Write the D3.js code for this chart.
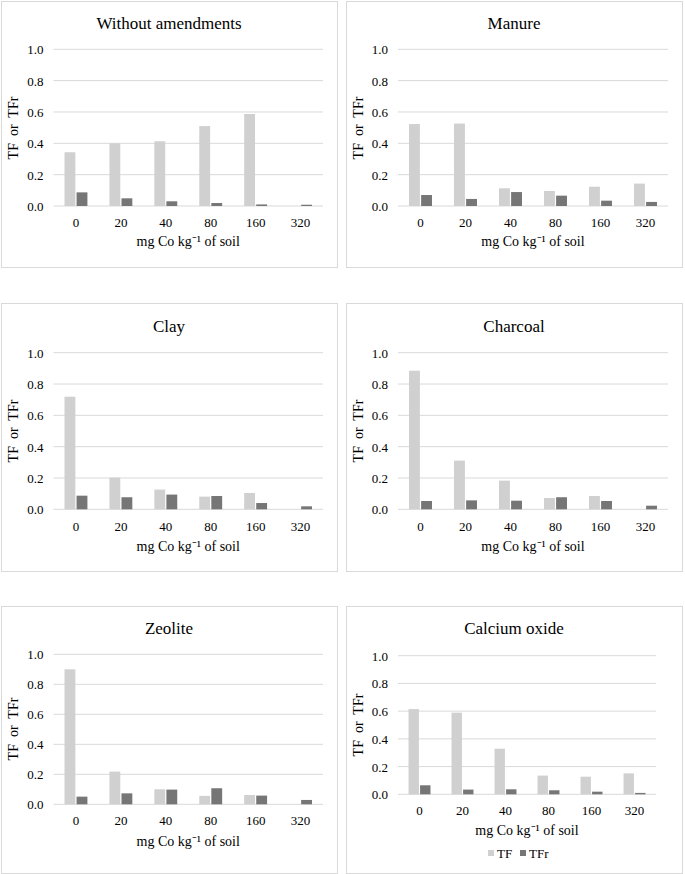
<!DOCTYPE html>
<html>
<head>
<meta charset="utf-8">
<script src="https://cdn.jsdelivr.net/npm/d3@7/dist/d3.min.js"></script>
<style>
  html, body { margin: 0; padding: 0; background: #fff; }
  #wrap { position: relative; width: 685px; height: 874px; }
  #wrap svg { position: absolute; left: 0; top: 0; display: block; }
  .lbl { position: absolute; font-family: "Liberation Serif", "Times New Roman", serif;
         color: #000; line-height: 1; white-space: pre; }
</style>
</head>
<body>
<div id="wrap"><svg id="chart" width="685" height="874"></svg></div>
<script>
// ---- Data ----
const categories = ["0", "20", "40", "80", "160", "320"];
const seriesNames = ["TF", "TFr"];
const yTicks = [0, 0.2, 0.4, 0.6, 0.8, 1.0];

const panelTitles = ["Without amendments", "Manure", "Clay", "Charcoal", "Zeolite", "Calcium oxide"];

const tfWithout  = [0.343, 0.400, 0.413, 0.510, 0.587, 0];
const tfrWithout = [0.087, 0.049, 0.030, 0.019, 0.010, 0.008];

const tfManure   = [0.523, 0.526, 0.113, 0.096, 0.123, 0.143];
const tfrManure  = [0.070, 0.045, 0.089, 0.066, 0.034, 0.026];

const tfClay     = [0.719, 0.202, 0.126, 0.081, 0.104, 0];
const tfrClay    = [0.087, 0.077, 0.094, 0.085, 0.040, 0.019];

const tfCharcoal  = [0.885, 0.311, 0.183, 0.072, 0.085, 0];
const tfrCharcoal = [0.053, 0.057, 0.055, 0.077, 0.053, 0.023];

const tfZeolite  = [0.900, 0.218, 0.100, 0.056, 0.062, 0];
const tfrZeolite = [0.051, 0.073, 0.098, 0.107, 0.058, 0.029];

const tfCaO      = [0.615, 0.589, 0.329, 0.135, 0.127, 0.151];
const tfrCaO     = [0.065, 0.034, 0.036, 0.029, 0.019, 0.010];

const tfSeries  = [tfWithout, tfManure, tfClay, tfCharcoal, tfZeolite, tfCaO];
const tfrSeries = [tfrWithout, tfrManure, tfrClay, tfrCharcoal, tfrZeolite, tfrCaO];

// ---- Layout (not data) ----
const layouts = [
  {box:[1,1,337,267],   plot:[53.5,49.3,323,206],   title:23,  tick:222, xt:242},
  {box:[346,1,682,267], plot:[398,49.3,668,206],    title:23,  tick:222, xt:242},
  {box:[1,303,337,571], plot:[53.5,352.7,323,509.3],title:326, tick:526, xt:547},
  {box:[346,303,682,571],plot:[398,352.7,668,509.3],title:326, tick:526, xt:547},
  {box:[1,606,337,873], plot:[53.5,654.3,323,804.3],title:628, tick:820, xt:842},
  {box:[346,606,682,873],plot:[398,655.7,656,794.3],title:628, tick:810, xt:831, legend:853}
];

const colors = { TF: "#d0d0d0", TFr: "#767676" };
const gridColor = "#d9d9d9";

const svg = d3.select("#chart");
const wrap = d3.select("#wrap");

// HTML text label helper: anchor 'middle' | 'end' | 'start', vertically centred on y
function label(x, y, text, size, anchor, rotate) {
  const tx = anchor === "end" ? "-100%" : anchor === "start" ? "0" : "-50%";
  return wrap.append("div").attr("class", "lbl")
    .style("left", x + "px").style("top", y + "px")
    .style("font-size", size + "px")
    .style("transform", `translate(${tx},-50%)` + (rotate ? ` rotate(${rotate}deg)` : ""))
    .style("transform-origin", rotate ? "50% 50%" : null)
    .text(text);
}

layouts.forEach((L, i) => {
  const g = svg.append("g");
  const [bx1, by1, bx2, by2] = L.box;
  g.append("rect")
    .attr("x", bx1 + 0.5).attr("y", by1 + 0.5)
    .attr("width", bx2 - bx1).attr("height", by2 - by1)
    .attr("fill", "#fff").attr("stroke", gridColor).attr("stroke-width", 1);

  const [px1, py1, px2, py2] = L.plot;
  const x0 = d3.scaleBand().domain(categories).range([px1, px2]).padding(0);
  const groupW = x0.bandwidth() * 0.51;
  const x1 = d3.scaleBand().domain(seriesNames).range([0, groupW]).paddingInner(0.1);
  const y = d3.scaleLinear().domain([0, 1]).range([py2, py1]);

  // gridlines
  g.append("g").selectAll("line").data(yTicks).join("line")
    .attr("x1", px1).attr("x2", px2)
    .attr("y1", d => y(d)).attr("y2", d => y(d))
    .attr("stroke", gridColor).attr("stroke-width", 1);

  // bars
  const tf = tfSeries[i], tfr = tfrSeries[i];
  const rows = categories.map((c, k) => ({ c, vals: [{s: "TF", v: tf[k]}, {s: "TFr", v: tfr[k]}] }));
  const grp = g.append("g").selectAll("g").data(rows).join("g")
    .attr("transform", d => `translate(${x0(d.c) + (x0.bandwidth() - groupW) / 2},0)`);
  grp.selectAll("rect").data(d => d.vals.filter(e => e.v > 0)).join("rect")
    .attr("x", e => x1(e.s)).attr("width", x1.bandwidth())
    .attr("y", e => y(e.v)).attr("height", e => y(0) - y(e.v))
    .attr("fill", e => colors[e.s]);

  // y tick labels
  yTicks.forEach(t => label(px1 - 10, y(t), d3.format(".1f")(t), 13, "end"));

  // x tick labels
  categories.forEach(c => label(x0(c) + x0.bandwidth() / 2, L.tick, c, 13, "middle"));

  // title
  label((bx1 + bx2) / 2, L.title, panelTitles[i], 17, "middle");

  // x axis title
  label((px1 + px2) / 2, L.xt, "mg Co kg\u207B\u00B9 of soil", 14, "middle");

  // y axis title
  label(bx1 + 13, (py1 + py2) / 2, "TF  or  TFr", 14, "middle", -90);

  // legend
  if (L.legend) {
    const items = [{s: "TF", x: 488}, {s: "TFr", x: 520}];
    g.append("g").selectAll("rect").data(items).join("rect")
      .attr("x", d => d.x).attr("y", L.legend - 3).attr("width", 6).attr("height", 6)
      .attr("fill", d => colors[d.s]);
    items.forEach(d => label(d.x + 9, L.legend, d.s, 13, "start"));
  }
});
</script>
</body>
</html>
